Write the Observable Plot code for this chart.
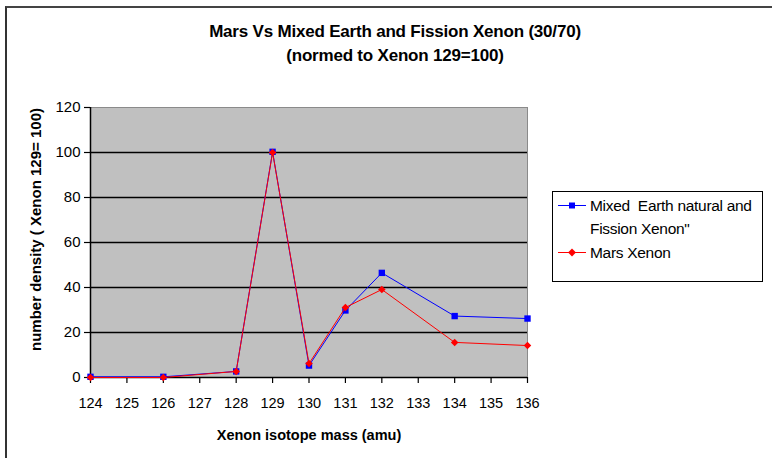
<!DOCTYPE html>
<html>
<head>
<meta charset="utf-8">
<script src="https://cdn.jsdelivr.net/npm/d3@7"></script>
<script src="https://cdn.jsdelivr.net/npm/@observablehq/plot@0.6"></script>
<style>
  html, body { margin: 0; padding: 0; background: #fff; }
  #wrap { position: relative; width: 772px; height: 458px; overflow: hidden; font-family: "Liberation Sans", Arial, sans-serif; }
  #border { position: absolute; left: 5px; top: 6px; width: 780px; height: 470px; border-left: 2px solid #333; border-top: 2px solid #444; }
  .title { position: absolute; left: 0; width: 790px; text-align: center; font-weight: bold; font-size: 17px; color: #000; letter-spacing: -0.2px; }
  #legend { position: absolute; left: 552px; top: 191px; width: 209px; height: 89px; border: 1px solid #000; background: #fff; font-size: 15.5px; color: #000; }
  .lrow { position: absolute; left: 4px; }
  .lrow svg { position: absolute; left: 0; }
  .lrow span { position: absolute; left: 33px; white-space: pre; line-height: 23px; letter-spacing: -0.3px; }
  #chart { position: absolute; left: 0; top: 0; }
</style>
</head>
<body>
<div id="wrap">
  <div id="border"></div>
  <div id="chart"></div>
  <div class="title" style="top:22px;">Mars Vs Mixed Earth and Fission Xenon (30/70)</div>
  <div class="title" style="top:46px;">(normed to Xenon 129=100)</div>
  <div id="legend"></div>
</div>
<script>
const masses = [124, 126, 128, 129, 130, 131, 132, 134, 136];
const mixedXenon = [0.3, 0.3, 2.7, 100.3, 5.3, 29.8, 46.5, 27.3, 26.2];
const marsXenon = [0, 0, 2.7, 100, 6.2, 31.1, 39.1, 15.6, 14.2];
const xTicks = [124, 125, 126, 127, 128, 129, 130, 131, 132, 133, 134, 135, 136];
const yTicks = [0, 20, 40, 60, 80, 100, 120];
const gridValues = [20, 40, 60, 80, 100];
const seriesNames = ["Mixed  Earth natural and\nFission Xenon\"", "Mars Xenon"];
const seriesColors = ["#0000ff", "#ff0000"];
const seriesSymbols = ["square", "diamond2"];

const mixed = masses.map((m, i) => ({mass: m, value: mixedXenon[i]}));
const mars = masses.map((m, i) => ({mass: m, value: marsXenon[i]}));

const font = '"Liberation Sans", Arial, sans-serif';

const chart = Plot.plot({
  width: 772,
  height: 458,
  marginLeft: 90,
  marginRight: 245,
  marginTop: 107,
  marginBottom: 81,
  style: {fontFamily: font, fontSize: "14px", color: "#000", background: "transparent", overflow: "visible"},
  x: {domain: [124, 136]},
  y: {domain: [0, 120]},
  marks: [
    Plot.frame({fill: "#c0c0c0", stroke: "#8a8a8a", strokeWidth: 1}),
    Plot.ruleY(gridValues, {stroke: "#000", strokeWidth: 1.5}),
    Plot.ruleX([124], {stroke: "#000", strokeWidth: 1.5}),
    Plot.ruleY([0], {stroke: "#000", strokeWidth: 1.5}),
    Plot.axisX({ticks: xTicks, tickSize: 6, tickPadding: 14, stroke: "#000", strokeWidth: 1.2, tickFormat: d => String(d), label: "Xenon isotope mass (amu)", labelAnchor: "center", labelArrow: "none", labelOffset: 62, fontSize: 14.5}),
    Plot.axisY({ticks: yTicks, tickSize: 6, tickPadding: 4, stroke: "#000", strokeWidth: 1.2, label: "number density ( Xenon 129= 100)", labelAnchor: "center", labelArrow: "none", labelOffset: 60, fontSize: 15}),
    Plot.lineY(mixed, {x: "mass", y: "value", stroke: seriesColors[0], strokeWidth: 1}),
    Plot.dot(mixed, {x: "mass", y: "value", symbol: seriesSymbols[0], r: 3.6, fill: seriesColors[0]}),
    Plot.lineY(mars, {x: "mass", y: "value", stroke: seriesColors[1], strokeWidth: 1}),
    Plot.dot(mars, {x: "mass", y: "value", symbol: seriesSymbols[1], r: 3.4, fill: seriesColors[1], stroke: "none"})
  ]
});
chart.querySelectorAll("g[aria-label='x-axis label'] text, g[aria-label='y-axis label'] text").forEach(t => {
  t.setAttribute("font-weight", "bold");
});
chart.querySelectorAll("g[aria-label='y-axis label'] text").forEach(t => {
  const tr = t.getAttribute("transform") || "";
  t.setAttribute("transform", "translate(0,-13) " + tr);
});
document.getElementById("chart").appendChild(chart);

// legend
const legend = document.getElementById("legend");
const rowsTop = [2, 49];
seriesNames.forEach((name, i) => {
  const row = document.createElement("div");
  row.className = "lrow";
  row.style.top = rowsTop[i] + "px";
  const sym = d3.symbol(seriesSymbols[i] === "square" ? d3.symbolSquare : d3.symbolDiamond2, i === 0 ? 36 : 40)();
  row.innerHTML = `<svg width="32" height="23" style="top:0"><line x1="1" x2="29" y1="11.5" y2="11.5" stroke="${seriesColors[i]}" stroke-width="1"/><path d="${sym}" transform="translate(15,11.5)" fill="${seriesColors[i]}"/></svg>` +
    name.split("\n").map((t, j) => `<span style="top:${j * 23}px">${t.replace(/"/g, "&quot;")}</span>`).join("");
  legend.appendChild(row);
});
</script>
</body>
</html>
